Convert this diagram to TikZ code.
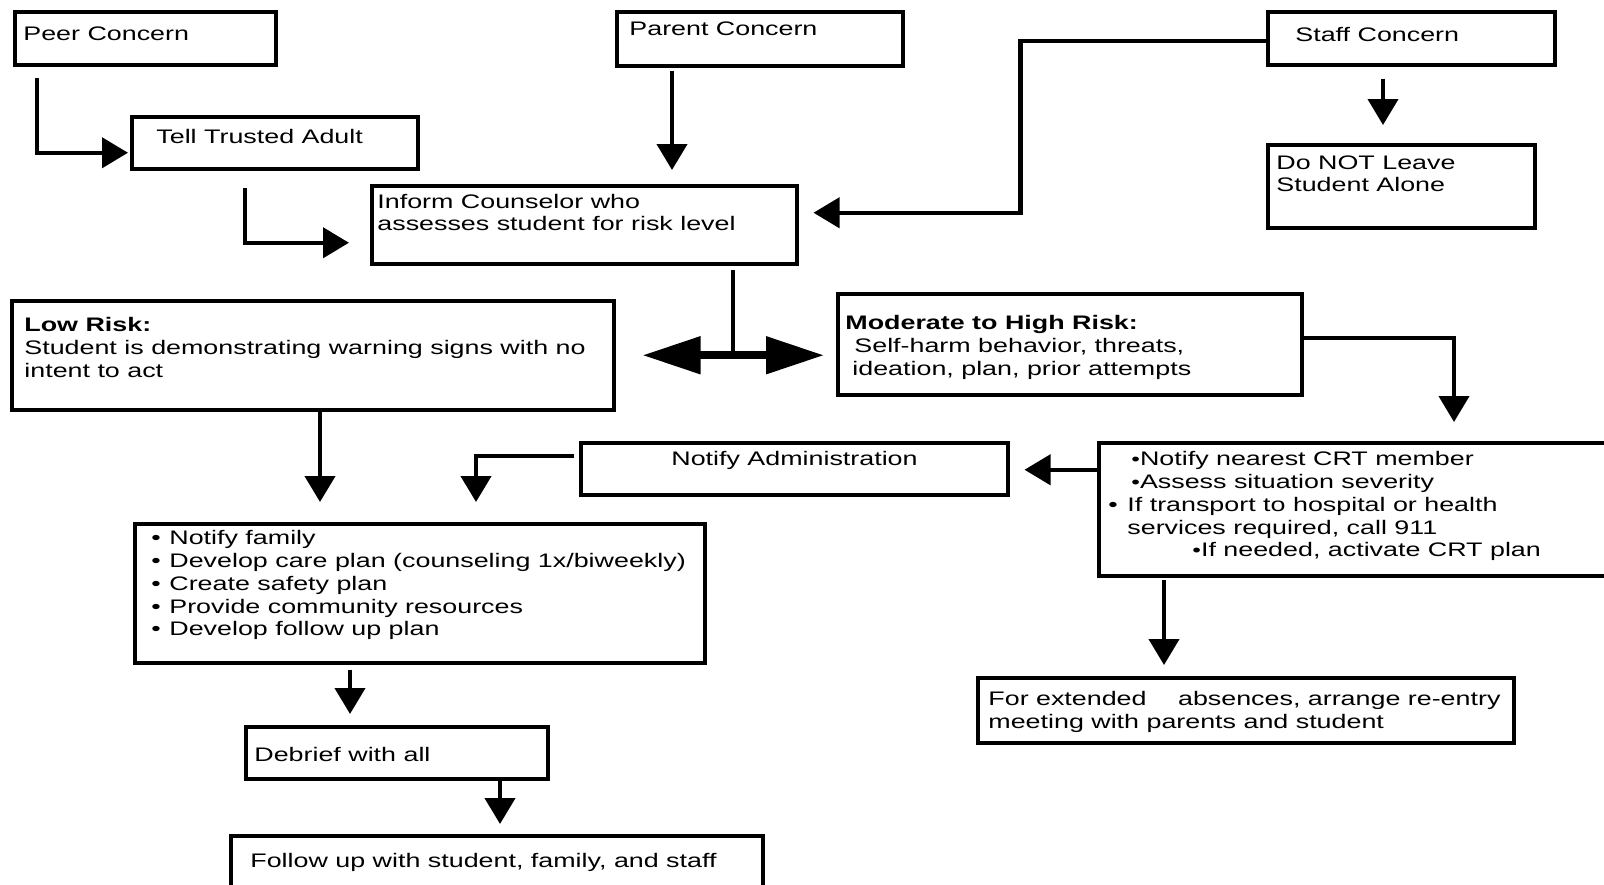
\documentclass[tikz,border=0pt]{standalone}
\usepackage{fontspec}
\setmainfont{Liberation Sans}[FakeStretch=1.37]
\usetikzlibrary{arrows.meta,calc}

\tikzset{
  box/.style 2 args={draw, line width=1.75pt, anchor=north west, inner sep=0pt,
    minimum width=#1*0.5pt, minimum height=#2*0.5pt},
  txt/.style={anchor=north west, inner sep=0pt, align=left,
    font=\fontsize{9.8pt}{11.4pt}\selectfont},
  line/.style={line width=2.1pt},
  arr/.style={line width=2.1pt, -{Triangle[length=13pt,width=15pt]}},
  dbl/.style={line width=4pt,
    {Triangle[length=29pt,width=18pt]}-{Triangle[length=29pt,width=18pt]}},
}
\newcommand{\bul}{\makebox[9pt][l]{•}}

\begin{document}
\begin{tikzpicture}[x=0.5pt,y=-0.5pt]
       \useasboundingbox (0,0) rectangle (1604,884);
       \clip (0,0) rectangle (1604,884);

       %kutije gore
       \node[box={261}{53}] (peer) at (13,10) {};
       \node[txt] (peertxt) at (23,26) {Peer Concern};
       \node[box={286}{54}] (parent) at (615,10) {};
       \node[txt] (parenttxt) at (629,21) {Parent Concern};
       \node[box={287}{53}] (staff) at (1266,10) {};
       \node[txt] (stafftxt) at (1295,27) {Staff Concern};
       \node[box={286}{52}] (tell) at (130,115) {};
       \node[txt] (telltxt) at (156,129) {Tell Trusted Adult};
       \node[box={425}{78}] (inform) at (370,184) {};
       \node[txt] (informtxt) at (377,193.5) {Inform Counselor who\\assesses student for risk level};
       \node[box={267}{83}] (donot) at (1266,143) {};
       \node[txt] (donottxt) at (1276,155) {Do NOT Leave\\Student Alone};

       %rizik
       \node[box={602}{109}] (low) at (10,299) {};
       \node[txt] (lowtxt) at (24,317) {\textbf{Low Risk:}\\Student is demonstrating warning signs with no\\intent to act};
       \node[box={464}{101}] (moderate) at (836,292) {};
       \node[txt] (moderatetxt) at (845,315) {\textbf{Moderate to High Risk:}\\\hspace*{4.5pt}Self-harm behavior, threats,\\\hspace*{3.5pt}ideation, plan, prior attempts};

       %sredina
       \node[box={427}{52}] (admin) at (579,441) {};
       \node[txt] (admintxt) at (671,451) {Notify Administration};
       \node[box={520}{133}] (crt) at (1097,441) {};
       \node[txt] (crttxt) at (1108,451) {\hspace*{11.5pt}{\small•}Notify nearest CRT member\\
         \hspace*{11.5pt}{\small•}Assess situation severity\\
         \makebox[9.5pt][l]{•}If transport to hospital or health\\
         \hspace*{9.5pt}services required, call 911\\
         \hspace*{42pt}{\small•}If needed, activate CRT plan};
       \node[box={570}{139}] (list) at (133,522) {};
       \node[txt] (listtxt) at (151,530) {\bul Notify family\\\bul Develop care plan (counseling 1x/biweekly)\\
         \bul Create safety plan\\\bul Provide community resources\\\bul Develop follow up plan};

       %dolje
       \node[box={302}{52}] (debrief) at (244,725) {};
       \node[txt] (debrieftxt) at (254,747) {Debrief with all};
       \node[box={532}{60}] (follow) at (229,834) {};
       \node[txt] (followtxt) at (250,853) {Follow up with student, family, and staff};
       \node[box={536}{65}] (extended) at (976,676) {};
       \node[txt] (extendedtxt) at (988,691) {For extended\hspace*{12pt} absences, arrange re-entry\\meeting with parents and student};

       %strelice
       \draw[arr] ($(peer.south west)+(24,11)$) |- ($(tell.west)+(-2,10)$);
       \draw[arr] ($(tell.south west)+(115,17)$) |- ($(inform.west)+(-21,18)$);
       \draw[arr] ($(parent.south west)+(57,3)$) -- ($(inform.north west)+(302,-14)$);
       \draw[arr] ($(staff.west)+(0,2.5)$) -| ($(inform.east)+(222,-12)$) -- ($(inform.east)+(15,-12)$);
       \draw[arr] ($(staff.south west)+(117,12)$) -- ($(donot.north west)+(117,-18)$);

       %dvostruka strelica
       \coordinate (split) at ($(inform.south west)+(363,4)$);
       \draw[line] (split) -- (split |- low.east);
       \draw[dbl] ($(low.east)+(27,0)$) -- ($(moderate.west)+(-12,11)$);

       \draw[arr] ($(moderate.east)+(0,-6.5)$) -| ($(crt.north west)+(357,-19)$);
       \draw[arr] ($(low.south west)+(310,0)$) -- ($(list.north west)+(187,-20)$);
       \draw[arr] ($(admin.west)+(-5,-13)$) -| ($(list.north west)+(343,-20)$);
       \draw[arr] ($(crt.west)+(0,-39.5)$) -- ($(admin.east)+(15,1)$);
       \draw[arr] ($(crt.south west)+(67,2)$) -- ($(extended.north west)+(188,-11)$);
       \draw[arr] ($(list.south west)+(217,5)$) -- ($(debrief.north west)+(106,-11)$);
       \draw[arr] ($(debrief.south west)+(256,0)$) -- ($(follow.north west)+(271,-10)$);
\end{tikzpicture}
\end{document}
